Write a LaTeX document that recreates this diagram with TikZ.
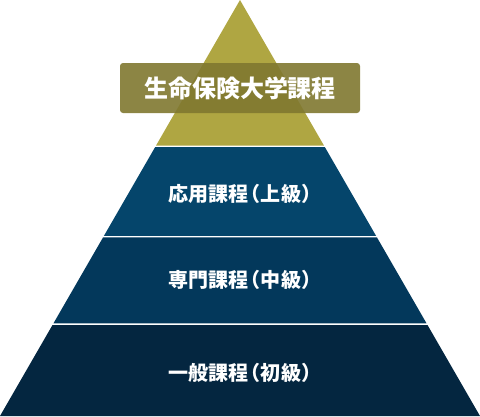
\documentclass[tikz,border=0pt]{standalone}
\usepackage{fontspec}
\newfontfamily\jp{Noto Sans CJK JP}
\newfontfamily\jpp{Noto Sans CJK JP}[RawFeature=+palt]
\definecolor{olivetop}{RGB}{175,166,66}
\definecolor{olivebox}{RGB}{128,120,48}
\definecolor{bandA}{RGB}{5,69,107}
\definecolor{bandB}{RGB}{3,56,91}
\definecolor{bandC}{RGB}{4,38,64}
\newcommand{\lp}{\hspace{2pt}{\jpp\bfseries （}\hspace{1pt}}
\newcommand{\rp}{\hspace{1pt}{\jpp\bfseries ）}}
\tikzset{
  band/.style={draw=none},
  lvltext/.style={text=white,font=\jp\bfseries\fontsize{20}{22}\selectfont,inner sep=0pt},
  titlebox/.style={fill=olivebox,fill opacity=0.9,text opacity=1,rounded corners=3pt,
     minimum width=240pt,minimum height=50pt,inner sep=0pt,text=white,
     font=\jp\bfseries\fontsize{24}{26}\selectfont}
}
\begin{document}
\begin{tikzpicture}[x=1pt,y=-1pt]
\useasboundingbox (0,0) rectangle (480,416);
\fill[band,olivetop] (240,0) -- (323.94,145.5) -- (156.06,145.5) -- cycle;
\fill[band,bandA] (155.08,147.2) -- (324.92,147.2) -- (376.04,235.8) -- (103.96,235.8) -- cycle;
\fill[band,bandB] (103.10,237.3) -- (376.90,237.3) -- (426.52,323.3) -- (53.48,323.3) -- cycle;
\fill[band,bandC] (52.5,325) -- (427.5,325) -- (480,416) -- (0,416) -- cycle;
\node[titlebox] (title) at (240,88) {生命保険大学課程};
\node[lvltext] (adv) at (240,194) {応用課程\lp 上級\rp};
\node[lvltext] (mid) at (240,280) {専門課程\lp 中級\rp};
\node[lvltext] (basic) at (240,373) {一般課程\lp 初級\rp};
\end{tikzpicture}
\end{document}
